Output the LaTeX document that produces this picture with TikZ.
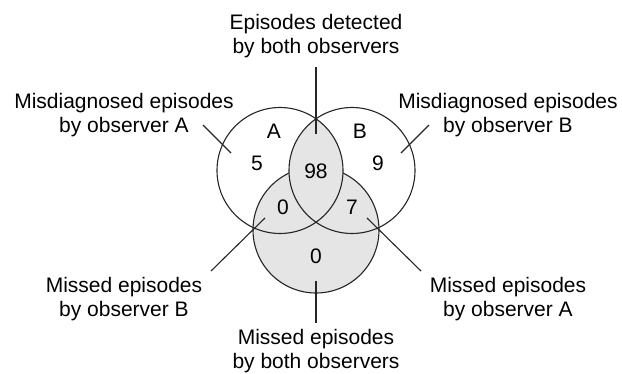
\documentclass[tikz,border=0pt]{standalone}
\usepackage{fontspec}
\setmainfont{Liberation Sans}

\begin{document}
\begin{tikzpicture}[
  x=1pt, y=-1pt,
  font=\fontsize{21}{24}\selectfont,
  set/.style={draw=black!85, line width=1.1pt},
  shaded/.style={fill=black!10},
  caption/.style={align=center, inner sep=0pt},
  count/.style={inner sep=0pt},
  leader/.style={draw=black!85, line width=1.1pt}
]
\useasboundingbox (0,0) rectangle (622,373);

% sets A, B and the missed-episodes set
\filldraw[set, shaded] (316,230) circle (63);
\begin{scope}
  \clip (280,170.5) circle (63);
  \fill[shaded] (352,170.5) circle (63);
\end{scope}
\draw[set] (280,170.5) circle (63);
\draw[set] (352,170.5) circle (63);

% counts
\node[count] (setA) at (274,131) {A};
\node[count] (setB) at (360,131) {B};
\node[count] (onlyA) at (257,163) {5};
\node[count] (onlyB) at (378,163) {9};
\node[count] (both) at (316,171) {98};
\node[count] (missB) at (283,207) {0};
\node[count] (missA) at (352,207) {7};
\node[count] (missAB) at (316,256) {0};

% captions
\node[caption] (capBoth) at (316,36.5) {Episodes detected\\by both observers};
\node[caption] (capMisA) at (124,115) {Misdiagnosed episodes\\by observer A};
\node[caption] (capMisB) at (508,115) {Misdiagnosed episodes\\by observer B};
\node[caption] (capMissB) at (124,299) {Missed episodes\\by observer B};
\node[caption] (capMissA) at (508,299) {Missed episodes\\by observer A};
\node[caption] (capMissAB) at (316,351) {Missed episodes\\by both observers};

% leader lines
\coordinate (tBoth) at (316,67);    \coordinate (hBoth) at (316,134);
\coordinate (tMisA) at (203,125);   \coordinate (hMisA) at (231,153);
\coordinate (tMisB) at (429,125);   \coordinate (hMisB) at (401,153);
\coordinate (tMissB) at (211,271);  \coordinate (hMissB) at (265,218);
\coordinate (tMissA) at (421,271);  \coordinate (hMissA) at (367,218);
\coordinate (tMissAB) at (316,323); \coordinate (hMissAB) at (316,281);
\draw[leader] (tBoth) -- (hBoth);
\draw[leader] (tMisA) -- (hMisA);
\draw[leader] (tMisB) -- (hMisB);
\draw[leader] (tMissB) -- (hMissB);
\draw[leader] (tMissA) -- (hMissA);
\draw[leader] (tMissAB) -- (hMissAB);

\end{tikzpicture}
\end{document}
